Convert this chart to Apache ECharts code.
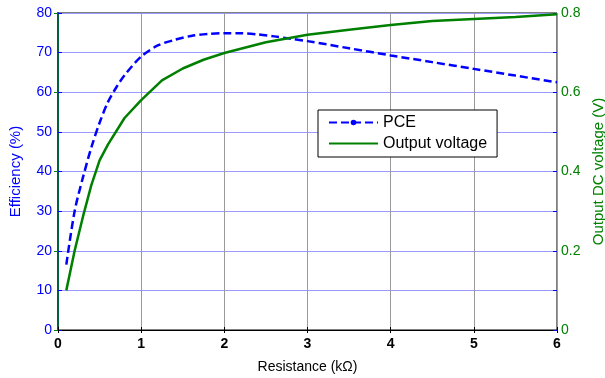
<!DOCTYPE html>
<html>
<head>
<meta charset="utf-8">
<script src="https://cdn.jsdelivr.net/npm/echarts@6/dist/echarts.min.js"></script>
<style>
  html, body { margin: 0; padding: 0; background: #fff; }
  #chart { width: 605px; height: 378px; }
</style>
</head>
<body>
<div id="chart"></div>
<script>
// Power conversion efficiency versus load resistance
const pceResistance = [0.1, 0.2, 0.3, 0.4, 0.5, 0.6, 0.7, 0.8, 1.0, 1.2, 1.4, 1.6, 1.8, 2.0, 2.2, 2.4, 2.6, 2.8, 3.0, 3.5, 4.0, 4.5, 5.0, 5.5, 6.0];
const pceValues     = [16.5, 30, 38.5, 46, 52.3, 57.5, 61.2, 64.3, 69, 71.8, 73.2, 74.2, 74.7, 74.9, 74.9, 74.6, 74.1, 73.5, 72.9, 71.1, 69.3, 67.6, 65.9, 64.2, 62.5];

// Rectified output DC voltage versus load resistance
const voltResistance = [0.1, 0.2, 0.3, 0.4, 0.5, 0.6, 0.8, 1.0, 1.25, 1.5, 1.75, 2.0, 2.5, 3.0, 3.5, 4.0, 4.5, 5.0, 5.5, 6.0];
const voltValues     = [0.10, 0.20, 0.286, 0.365, 0.428, 0.468, 0.535, 0.58, 0.63, 0.66, 0.682, 0.699, 0.726, 0.745, 0.758, 0.770, 0.780, 0.785, 0.790, 0.797];

const seriesNames = ['PCE', 'Output voltage'];

const pceData = pceResistance.map((r, i) => [r, pceValues[i]]);
const voltData = voltResistance.map((r, i) => [r, voltValues[i]]);

const FONT = 'Liberation Sans, Arial, sans-serif';
const BLUE = '#0000ff';
const GREEN = '#008000';

const chart = echarts.init(document.getElementById('chart'), null, { renderer: 'canvas' });

chart.setOption({
  animation: false,
  backgroundColor: '#ffffff',
  grid: {
    left: 58, right: 48, top: 13, bottom: 48,
    containLabel: false,
    outerBoundsMode: 'none',
    show: true, borderColor: '#000', borderWidth: 1, backgroundColor: 'transparent'
  },
  legend: {
    show: true,
    data: [
      { name: seriesNames[0] },
      { name: seriesNames[1], itemStyle: { opacity: 0 } }
    ],
    orient: 'vertical',
    left: 318, top: 110,
    itemWidth: 49, itemHeight: 7, itemGap: 4,
    padding: [4, 10, 5, 10],
    borderColor: '#000', borderWidth: 1,
    backgroundColor: '#fff',
    textStyle: { color: '#000', fontFamily: FONT, fontSize: 16, lineHeight: 17 }
  },
  xAxis: [{
    type: 'value', min: 0, max: 6, interval: 1,
    name: 'Resistance (k\u03A9)', nameLocation: 'middle', nameGap: 30,
    nameTextStyle: { color: '#000', fontFamily: FONT, fontSize: 14 },
    axisLine: { lineStyle: { color: '#000', width: 1 } },
    axisTick: { inside: true, length: 3, lineStyle: { color: '#000' } },
    axisLabel: { color: '#000', fontFamily: FONT, fontSize: 14, fontWeight: 'bold', margin: 7 },
    splitLine: { show: true, lineStyle: { color: '#9a9a9a', width: 1 } }
  }, {
    type: 'value', min: 0, max: 6, interval: 1, position: 'top',
    axisLine: { show: false },
    axisTick: { inside: true, length: 3, lineStyle: { color: '#000' } },
    axisLabel: { show: false },
    splitLine: { show: false }
  }],
  yAxis: [{
    type: 'value', min: 0, max: 80, interval: 10,
    name: 'Efficiency (%)', nameLocation: 'middle', nameGap: 35,
    nameTextStyle: { color: BLUE, fontFamily: FONT, fontSize: 15 },
    axisLine: { show: true, lineStyle: { color: BLUE, width: 2 } },
    axisTick: { show: true, inside: true, length: 4, lineStyle: { color: BLUE } },
    axisLabel: { color: BLUE, fontFamily: FONT, fontSize: 14, margin: 6 },
    splitLine: { show: true, lineStyle: { color: '#9a9aff', width: 1 } }
  }, {
    type: 'value', min: 0, max: 0.8, interval: 0.2, position: 'right',
    name: 'Output DC voltage (V)', nameLocation: 'middle', nameGap: 32,
    nameTextStyle: { color: GREEN, fontFamily: FONT, fontSize: 15 },
    axisLine: { show: true, lineStyle: { color: GREEN, width: 1.5 } },
    axisTick: { show: true, inside: true, length: 4, lineStyle: { color: GREEN } },
    axisLabel: { color: GREEN, fontFamily: FONT, fontSize: 14, margin: 4 },
    splitLine: { show: false }
  }, {
    type: 'value', min: 0, max: 80, interval: 10, position: 'right',
    axisLine: { show: false },
    axisTick: { show: true, inside: true, length: 4, lineStyle: { color: BLUE } },
    axisLabel: { show: false },
    splitLine: { show: false }
  }],
  series: [{
    name: seriesNames[0],
    type: 'line',
    xAxisIndex: 0, yAxisIndex: 0,
    data: pceData,
    smooth: 0.3,
    showSymbol: false,
    symbol: 'circle', symbolSize: 6,
    itemStyle: { color: BLUE },
    lineStyle: { color: BLUE, width: 2.5, type: [8, 4] },
    z: 3
  }, {
    name: seriesNames[1],
    type: 'line',
    xAxisIndex: 0, yAxisIndex: 1,
    data: voltData,
    symbol: 'none',
    itemStyle: { color: GREEN },
    lineStyle: { color: GREEN, width: 2.5 },
    z: 3
  }]
});
</script>
</body>
</html>
